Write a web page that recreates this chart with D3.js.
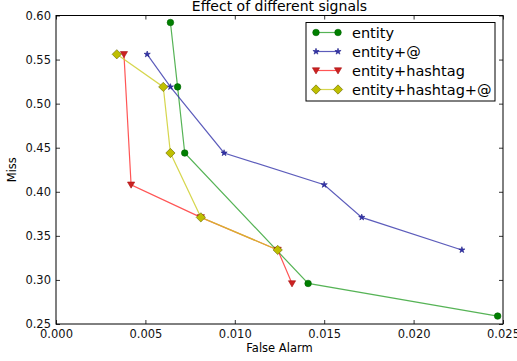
<!DOCTYPE html>
<html>
<head>
<meta charset="utf-8">
<script src="https://cdn.jsdelivr.net/npm/d3@7"></script>
<style>
  body { margin: 0; background: #fff; }
  svg { font-family: "DejaVu Sans", sans-serif; }
</style>
</head>
<body>
<svg id="chart" width="517" height="361"></svg>
<script>
// values
const entityX = [0.0064, 0.0068, 0.0072, 0.0141, 0.0247];
const entityY = [0.592, 0.519, 0.444, 0.296, 0.259];
const atX = [0.0051, 0.0064, 0.0094, 0.0150, 0.0171, 0.0227];
const atY = [0.556, 0.519, 0.444, 0.408, 0.371, 0.334];
const hashX = [0.0038, 0.0042, 0.0081, 0.0124, 0.0132];
const hashY = [0.556, 0.408, 0.371, 0.334, 0.296];
const bothX = [0.0034, 0.0060, 0.0064, 0.0081, 0.0124];
const bothY = [0.556, 0.519, 0.444, 0.371, 0.334];

const xTicks = [0, 0.005, 0.01, 0.015, 0.02, 0.025];
const yTicks = [0.25, 0.30, 0.35, 0.40, 0.45, 0.50, 0.55, 0.60];

const series = [
  { name: "entity", xs: entityX, ys: entityY, line: "#2ca02c", fill: "#007f00", edge: "#006400", shape: d3.symbolCircle, size: 34 },
  { name: "entity+@", xs: atX, ys: atY, line: "#3333aa", fill: "#3333aa", edge: "#222288", shape: d3.symbolStar, size: 12 },
  { name: "entity+hashtag", xs: hashX, ys: hashY, line: "#ff2a2a", fill: "#cc2222", edge: "#aa1111", shape: "tri", size: 34 },
  { name: "entity+hashtag+@", xs: bothX, ys: bothY, line: "#cccc22", fill: "#bfbf00", edge: "#666600", shape: d3.symbolDiamond, size: 44 }
];

const margin = { left: 56, top: 15.5, right: 14, bottom: 37 };
const W = 517, H = 361;
const svg = d3.select("#chart");

const x = d3.scaleLinear().domain([0, 0.025]).range([margin.left, W - margin.right]);
const y = d3.scaleLinear().domain([0.25, 0.60]).range([H - margin.bottom, margin.top]);

function markerPath(s) {
  if (s.shape === "tri") {
    const r = Math.sqrt(s.size) * 0.62;
    return `M${-r},${-r * 0.75}L${r},${-r * 0.75}L0,${r * 0.95}Z`;
  }
  if (s.shape === d3.symbolDiamond) {
    const r = Math.sqrt(s.size) * 0.7;
    return `M0,${-r}L${r},0L0,${r}L${-r},0Z`;
  }
  return d3.symbol().type(s.shape).size(s.size)();
}

// frame ticks
const gAxes = svg.append("g");
const fmtX = d3.format(".3f");
const fmtY = d3.format(".2f");

gAxes.append("g")
  .attr("transform", `translate(0,${y(0.25)})`)
  .call(d3.axisBottom(x).tickValues(xTicks).tickFormat(fmtX).tickSizeInner(-4).tickSizeOuter(0).tickPadding(6));
gAxes.append("g")
  .attr("transform", `translate(0,${y(0.60)})`)
  .call(d3.axisTop(x).tickValues(xTicks).tickFormat("").tickSizeInner(-4).tickSizeOuter(0));
gAxes.append("g")
  .attr("transform", `translate(${x(0)},0)`)
  .call(d3.axisLeft(y).tickValues(yTicks).tickFormat(fmtY).tickSizeInner(-4).tickSizeOuter(0).tickPadding(5));
gAxes.append("g")
  .attr("transform", `translate(${x(0.025)},0)`)
  .call(d3.axisRight(y).tickValues(yTicks).tickFormat("").tickSizeInner(-4).tickSizeOuter(0));

gAxes.selectAll(".domain").remove();
gAxes.selectAll(".tick line").attr("stroke", "#000").attr("stroke-width", 0.8);
gAxes.selectAll(".tick text").attr("font-size", 11.5).attr("fill", "#111").attr("font-family", "DejaVu Sans");

// lines and markers
const plot = svg.append("g");
series.forEach(s => {
  const pts = s.xs.map((v, i) => [v, s.ys[i]]);
  plot.append("path")
    .datum(pts)
    .attr("fill", "none")
    .attr("stroke", s.line)
    .attr("stroke-opacity", 0.8)
    .attr("stroke-width", 1.2)
    .attr("d", d3.line().x(d => x(d[0])).y(d => y(d[1])));
});
series.forEach(s => {
  const pts = s.xs.map((v, i) => [v, s.ys[i]]);
  plot.selectAll(null)
    .data(pts)
    .join("path")
    .attr("transform", d => `translate(${x(d[0])},${y(d[1])})`)
    .attr("d", markerPath(s))
    .attr("fill", s.fill)
    .attr("stroke", s.edge)
    .attr("stroke-width", 0.6);
});

// frame
svg.append("rect")
  .attr("x", x(0)).attr("y", y(0.60))
  .attr("width", x(0.025) - x(0)).attr("height", y(0.25) - y(0.60))
  .attr("fill", "none").attr("stroke", "#000").attr("stroke-width", 1);

// title and axis labels
svg.append("text")
  .attr("x", (x(0) + x(0.025)) / 2).attr("y", 11)
  .attr("text-anchor", "middle").attr("font-size", 14).attr("fill", "#000")
  .text("Effect of different signals");
svg.append("text")
  .attr("x", (x(0) + x(0.025)) / 2).attr("y", 352)
  .attr("text-anchor", "middle").attr("font-size", 11.5).attr("fill", "#000")
  .text("False Alarm");
svg.append("text")
  .attr("transform", `translate(16,${(y(0.25) + y(0.60)) / 2}) rotate(-90)`)
  .attr("text-anchor", "middle").attr("font-size", 11.5).attr("fill", "#000")
  .text("Miss");

// legend
const leg = svg.append("g").attr("transform", "translate(306,22.5)");
leg.append("rect")
  .attr("width", 189).attr("height", 78.5)
  .attr("fill", "#fff").attr("stroke", "#000").attr("stroke-width", 1);
series.forEach((s, i) => {
  const row = leg.append("g").attr("transform", `translate(0,${10 + i * 19})`);
  row.append("line")
    .attr("x1", 10).attr("x2", 32)
    .attr("stroke", s.line).attr("stroke-opacity", 0.8).attr("stroke-width", 1.2);
  [10, 32].forEach(px => {
    row.append("path")
      .attr("transform", `translate(${px},0)`)
      .attr("d", markerPath(s))
      .attr("fill", s.fill).attr("stroke", s.edge).attr("stroke-width", 0.6);
  });
  row.append("text")
    .attr("x", 46).attr("y", 0).attr("dy", "0.35em")
    .attr("font-size", 14.5).attr("fill", "#000")
    .text(s.name);
});
</script>
</body>
</html>
